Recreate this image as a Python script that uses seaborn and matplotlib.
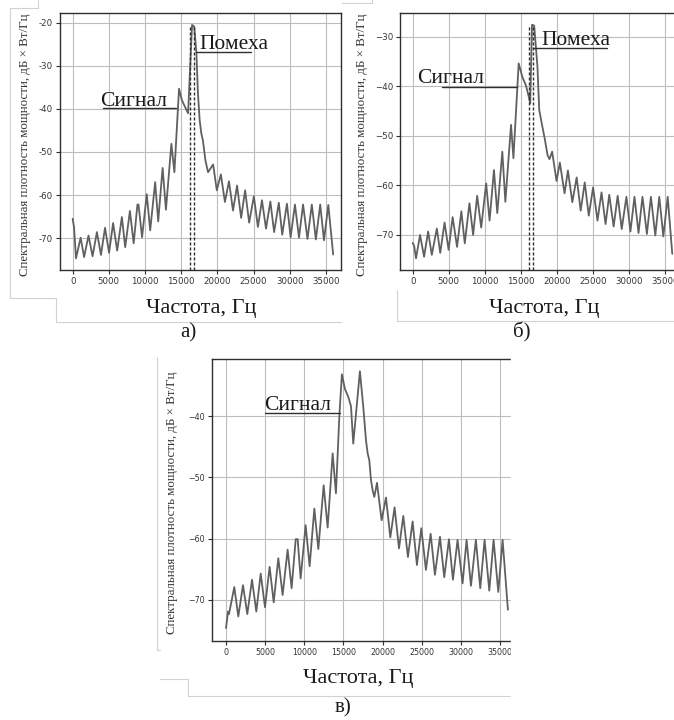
"""
Spectral power density of the received mixture, three cases (а, б, в).

Run::

    python plot.py
"""

import matplotlib

matplotlib.use("Agg")
import matplotlib.pyplot as plt                      # noqa: E402
import seaborn as sns                                # noqa: E402
from matplotlib.lines import Line2D                  # noqa: E402
from matplotlib.patches import Rectangle             # noqa: E402
from matplotlib.ticker import FuncFormatter, MultipleLocator  # noqa: E402

W, H = 674, 720
SERIF = ["Liberation Serif", "DejaVu Serif"]
CURVE = "#606060"
INK = "#2e2e2e"
FRAME = "#d2d2d2"

YLABEL = "Спектральная плотность мощности, дБ × Вт/Гц"
XLABEL = "Частота, Гц"
CAPTIONS = ["а)", "б)", "в)"]

# --- values: frequency, Hz / PSD, dB (peaks and troughs) ---
freq_a = [0, 190, 460, 1100, 1580, 2190, 2750, 3350, 3910, 4470, 5030, 5590,
          6150, 6800, 7260, 7910, 8430, 8950, 9100, 9590, 10240, 10710, 11400,
          11820, 12430, 12890, 13640, 14060, 14700, 15100, 15550, 15950, 16500,
          16800, 17100, 17300, 17550, 17780, 18000, 18340, 18710, 19410, 19920,
          20480, 21040, 21600, 22160, 22720, 23280, 23830, 24390, 25040, 25600,
          26160, 26720, 27320, 27840, 28490, 28960, 29610, 30120, 30720, 31280,
          31840, 32450, 33050, 33610, 34210, 34730, 35330, 36000]
psd_a = [-65.5, -67.5, -74.7, -69.9, -74.4, -69.4, -74.2, -68.6, -73.9, -67.6,
         -73.4, -66.5, -72.9, -65.1, -72.1, -63.7, -71.2, -62.2, -62.2, -69.8,
         -59.8, -68.2, -57.0, -66.1, -53.7, -63.4, -48.1, -54.7, -35.3, -38.0,
         -39.6, -41.0, -20.5, -20.9, -27.0, -36.0, -42.6, -45.7, -47.3, -51.9,
         -54.7, -52.9, -58.9, -55.2, -61.6, -56.8, -63.6, -57.8, -65.3, -58.9,
         -66.4, -60.3, -67.4, -61.2, -67.8, -61.5, -68.6, -61.8, -69.2, -62.0,
         -69.8, -62.2, -69.9, -62.2, -70.2, -62.2, -70.3, -62.2, -70.5, -62.3,
         -73.8]

freq_b = [0, 200, 460, 1020, 1580, 2140, 2650, 3350, 3820, 4420, 4980, 5540,
          6150, 6750, 7220, 7870, 8380, 8940, 9500, 10190, 10660, 11270, 11730,
          12430, 12850, 13640, 13970, 14700, 15200, 15700, 16150, 16300, 16550,
          16850, 17300, 17550, 17900, 18340, 18700, 18970, 19340, 19950, 20410,
          21060, 21530, 22140, 22740, 23300, 23860, 24420, 25020, 25630, 26190,
          26750, 27260, 27870, 28430, 28990, 29640, 30200, 30760, 31320, 31870,
          32480, 33040, 33650, 34200, 34760, 35370, 36000]
psd_b = [-71.6, -72.2, -74.7, -70.0, -74.4, -69.3, -74.0, -68.7, -73.6, -67.5,
         -73.0, -66.4, -72.4, -65.2, -71.7, -63.6, -70.0, -62.1, -68.5, -59.6,
         -67.1, -56.9, -65.6, -53.2, -63.3, -47.8, -54.5, -35.4, -38.1, -39.8,
         -42.4, -43.5, -27.6, -27.8, -36.0, -44.8, -47.5, -50.8, -53.9, -54.7,
         -53.2, -59.1, -55.4, -61.6, -57.0, -63.4, -58.4, -65.1, -59.4, -66.1,
         -60.4, -67.1, -61.4, -67.8, -61.9, -68.3, -62.1, -68.8, -62.3, -69.3,
         -62.3, -69.6, -62.3, -69.8, -62.3, -70.1, -62.3, -70.3, -62.3, -73.8]

freq_c = [0, 260, 380, 1060, 1570, 2170, 2720, 3320, 3870, 4430, 4980, 5570,
          6090, 6680, 7230, 7870, 8380, 8900, 9150, 9530, 10170, 10680, 11280,
          11790, 12470, 12980, 13620, 14040, 14470, 14800, 15190, 15620, 15960,
          16250, 17100, 17530, 17870, 18090, 18300, 18510, 18720, 18940, 19280,
          19870, 20430, 20980, 21530, 22090, 22640, 23230, 23830, 24380, 24940,
          25530, 26130, 26680, 27320, 27870, 28470, 28980, 29570, 30210, 30720,
          31280, 31910, 32470, 33020, 33620, 34170, 34770, 35320, 36000]
psd_c = [-74.6, -71.9, -72.3, -67.9, -72.7, -67.6, -72.3, -66.7, -71.9, -65.7,
         -71.2, -64.6, -70.4, -63.2, -69.2, -61.8, -68.1, -60.1, -60.1, -66.5,
         -57.8, -64.5, -55.1, -61.7, -51.3, -58.2, -46.1, -52.6, -40.1, -33.2,
         -35.6, -36.9, -38.4, -44.5, -32.7, -38.5, -43.9, -46.1, -47.2, -50.4,
         -52.1, -53.2, -50.9, -57.0, -53.3, -59.8, -54.9, -61.6, -56.3, -63.0,
         -57.2, -64.3, -58.3, -65.1, -59.2, -65.9, -59.7, -66.3, -60.1, -66.7,
         -60.2, -67.3, -60.2, -67.7, -60.2, -68.1, -60.2, -68.5, -60.2, -68.7,
         -60.2, -71.6]

# interference band markers (dashed) and the level they reach
band_a = [16250, 16800]
band_b = [16200, 16750]
band_top_a = -20.5
band_top_b = -27.8


def fig_rect(left, top, right, bottom):
    """Pixel box (from the top-left corner) -> figure fraction rect."""
    return [left / W, 1 - bottom / H, (right - left) / W, (bottom - top) / H]


def fig_xy(x, y):
    return x / W, 1 - y / H


def draw_panel(fig, box, freq, psd, xlim, ylim, tick_size, hyphen=False):
    ax = fig.add_axes(fig_rect(*box))
    sns.lineplot(x=freq, y=psd, ax=ax, color=CURVE, lw=1.3, zorder=3)
    ax.set_xlim(*xlim)
    ax.set_ylim(*ylim)
    ax.xaxis.set_major_locator(MultipleLocator(5000))
    ax.yaxis.set_major_locator(MultipleLocator(10))
    if hyphen:
        ax.yaxis.set_major_formatter(FuncFormatter(lambda v, _: f"{v:.0f}"))
    ax.grid(True, color="#bdbdbd", lw=0.8)
    ax.set_axisbelow(True)
    ax.set_xlabel("")
    ax.set_ylabel("")
    ax.tick_params(labelsize=tick_size, length=3, width=0.8, color=INK,
                   labelcolor="#333333", pad=2)
    for sp in ax.spines.values():
        sp.set_visible(True)
        sp.set_color(INK)
        sp.set_linewidth(1.0)
    return ax


def marker(ax, text, x_text, y_text, x0, x1, y_line):
    ax.text(x_text, y_text, text, family=SERIF, fontsize=15.5,
            color="#1a1a1a", ha="left", va="baseline", zorder=5)
    ax.plot([x0, x1], [y_line, y_line], color=INK, lw=1.0, zorder=5)


def frame(fig, pts):
    xs, ys = zip(*[fig_xy(x, y) for x, y in pts])
    fig.add_artist(Line2D(xs, ys, transform=fig.transFigure,
                          color=FRAME, lw=0.8))


def main() -> None:
    sns.set_style("ticks")
    plt.rcParams["font.family"] = ["DejaVu Sans"]

    fig = plt.figure(figsize=(W / 100, H / 100), dpi=100)

    # screenshot frames around the three pictures
    frame(fig, [(38, 0), (38, 8), (9.5, 8), (9.5, 298), (56, 298), (56, 322), (341, 322)])
    frame(fig, [(342, 3), (372, 3), (372, 0)])
    frame(fig, [(397, 290), (397, 321), (674, 321)])
    frame(fig, [(156.7, 357), (156.7, 650), (160, 650)])
    frame(fig, [(160, 679), (187.7, 679), (187.7, 696), (510, 696)])

    # а)
    ax_a = draw_panel(fig, (60, 13.3, 341, 270), freq_a, psd_a,
                      (-1751, 37083), (-77.4, -17.8), 6.2, hyphen=True)
    ax_a.vlines(band_a, -77.4, band_top_a, colors=INK, lw=1.0,
                linestyles=(0, (2.2, 1.4)), zorder=4)
    marker(ax_a, "Сигнал", 3777, -39.3, 4190, 14280, -39.9)
    marker(ax_a, "Помеха", 17500, -26.2, 17070, 24600, -26.8)

    # б)
    ax_b = draw_panel(fig, (400, 13.3, 690, 270), freq_b, psd_b,
                      (-1761, 38461), (-77.06, -25.3), 6.2)
    ax_b.vlines(band_b, -77.06, band_top_b, colors=INK, lw=1.0,
                linestyles=(0, (2.2, 1.4)), zorder=4)
    marker(ax_b, "Сигнал", 555, -39.4, 4020, 14420, -40.2)
    marker(ax_b, "Помеха", 17890, -31.7, 16730, 26900, -32.3)

    # в)
    ax_c = draw_panel(fig, (211.7, 359, 530, 641), freq_c, psd_c,
                      (-1826, 38820), (-76.7, -30.7), 5.7)
    marker(ax_c, "Сигнал", 4853, -39.0, 4980, 14560, -39.5)
    # the bottom picture is cropped on the right
    x0, y0 = fig_xy(511, 700)
    fig.add_artist(Rectangle((x0, y0), 1 - x0, (700 - 350) / H,
                             transform=fig.transFigure, color="white",
                             zorder=10))

    # axis titles and captions
    for x, y in ((25, 145), (361.7, 145), (171.7, 503)):
        fig.text(*fig_xy(x, y), YLABEL, rotation=90, family=SERIF,
                 fontsize=9.3, color="#333333", ha="center", va="center")
    for x, y in ((201, 309), (544, 309), (358, 678)):
        fig.text(*fig_xy(x, y), XLABEL, family=SERIF, fontsize=16,
                 color="#1a1a1a", ha="center", va="center")
    for (x, y), cap in zip(((188, 333), (522, 332), (343, 708)), CAPTIONS):
        fig.text(*fig_xy(x, y), cap, family=SERIF, fontsize=15,
                 color="#1a1a1a", ha="center", va="center", zorder=11)

    fig.savefig("out.png", dpi=100)
    plt.close(fig)


if __name__ == "__main__":
    main()
